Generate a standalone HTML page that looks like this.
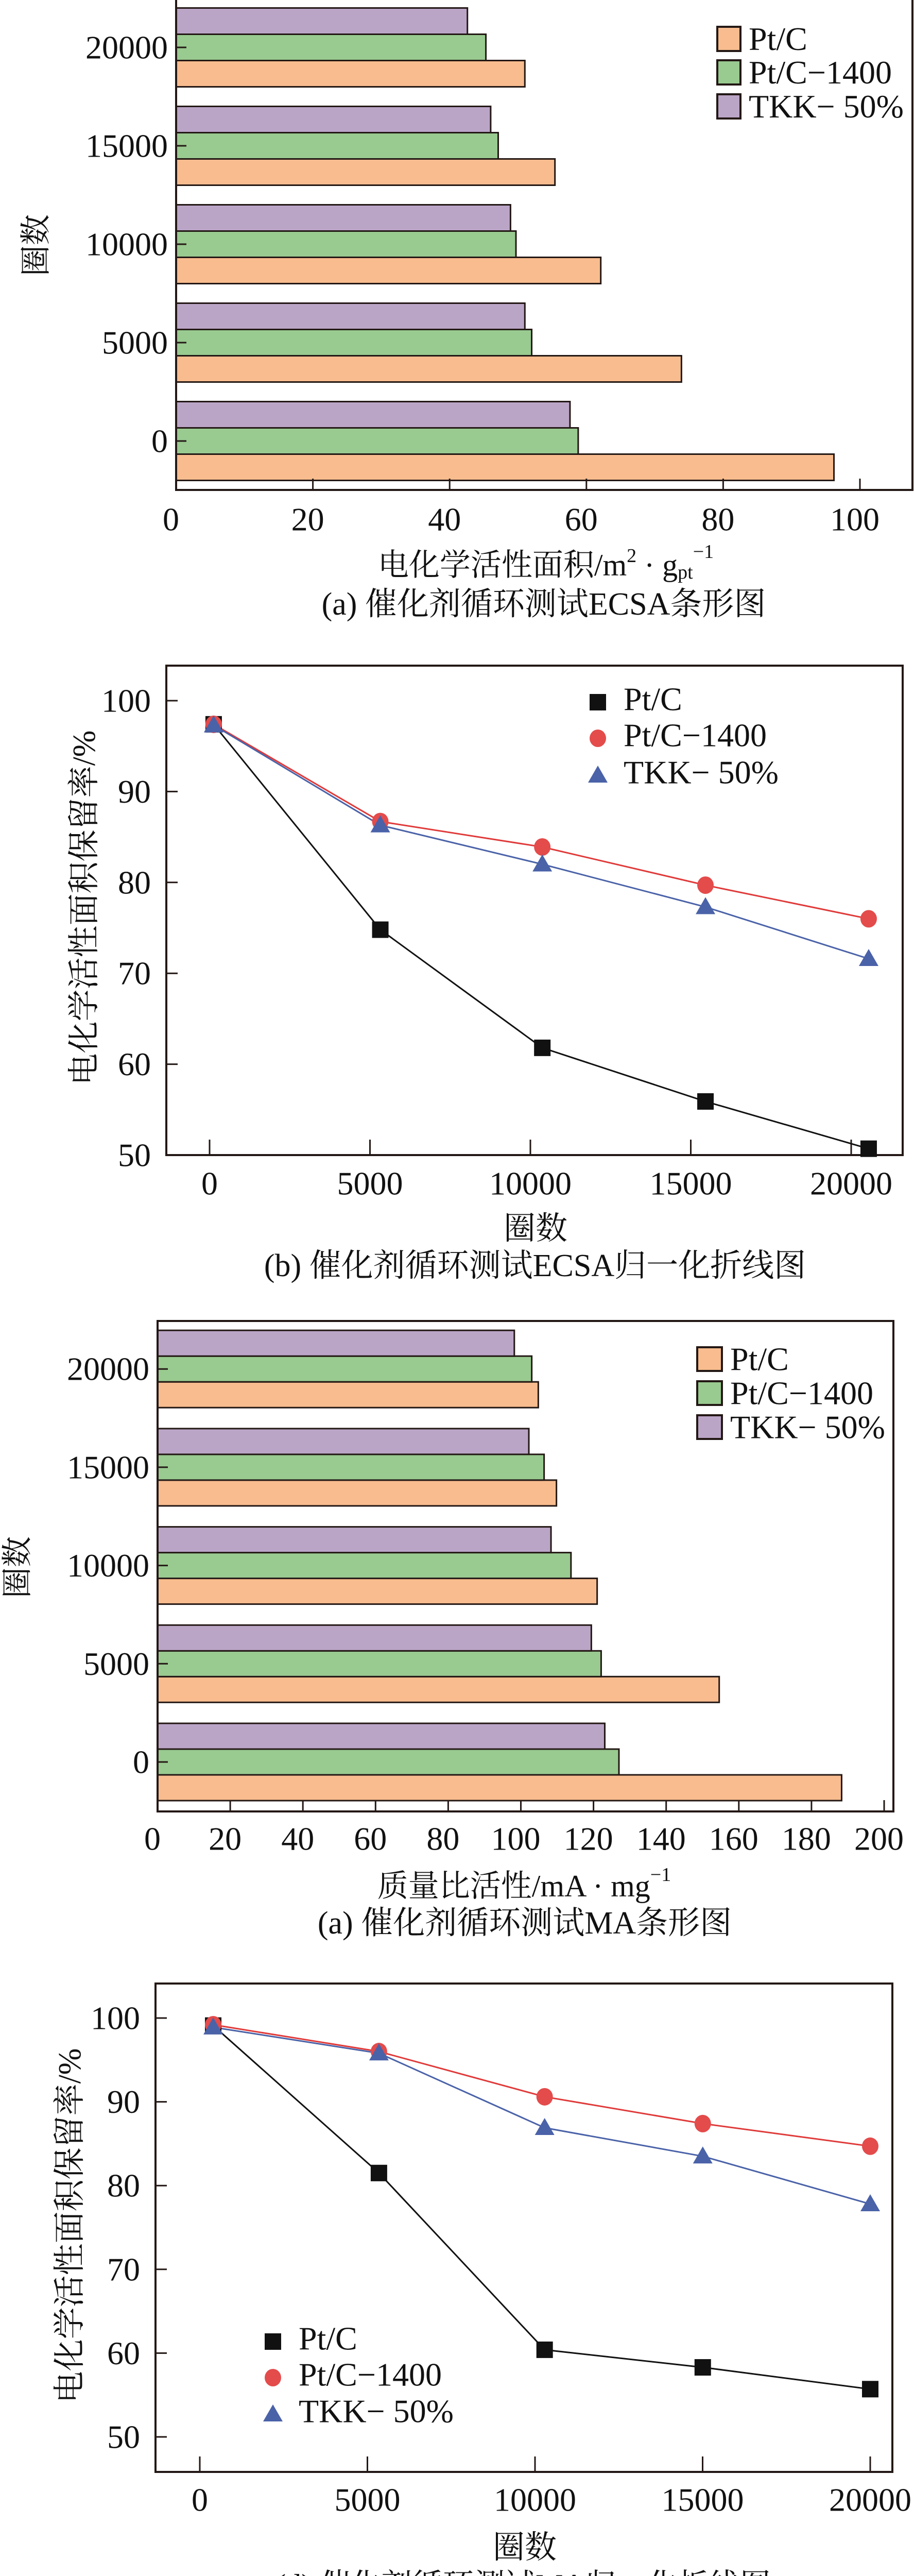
<!DOCTYPE html>
<html><head><meta charset="utf-8"><style>
html,body{margin:0;padding:0;background:#fff;width:1775px;height:5058px;overflow:hidden;}
svg{display:block;overflow:hidden;}
text{font-family:"Liberation Serif","Noto Serif CJK SC",serif;fill:#111;}
</style></head><body>
<svg id="fig" xmlns="http://www.w3.org/2000/svg" width="1775" height="5058" viewBox="0 0 1775 5058">
<rect x="0" y="0" width="1775" height="5058" fill="#fff"/>
</svg>
<script>
// ---- Chart (a) ECSA bar ----
const aCategories = ["0", "5000", "10000", "15000", "20000"];
const aPtC = [96.2, 73.9, 62.1, 55.4, 51.0];
const aPtC1400 = [58.8, 52.0, 49.7, 47.1, 45.3];
const aTKK = [57.6, 51.0, 48.9, 46.0, 42.6];
const aXTicks = [0, 20, 40, 60, 80, 100];
// ---- Chart (b) ECSA normalized line ----
const bCycles = [127, 5322, 10372, 15458, 20545];
const bPtC = [97.4, 74.8, 61.8, 55.9, 50.7];
const bPtC1400 = [97.4, 86.7, 83.9, 79.7, 76.0];
const bTKK = [97.3, 86.3, 82.0, 77.3, 71.6];
const bXTicks = [0, 5000, 10000, 15000, 20000];
const bYTicks = [50, 60, 70, 80, 90, 100];
// ---- Chart (c) MA bar ----
const cCategories = ["0", "5000", "10000", "15000", "20000"];
const cPtC = [188.3, 154.6, 121.0, 109.8, 104.8];
const cPtC1400 = [127.0, 122.1, 113.8, 106.4, 103.0];
const cTKK = [123.1, 119.4, 108.3, 102.2, 98.2];
const cXTicks = [0, 20, 40, 60, 80, 100, 120, 140, 160, 180, 200];
// ---- Chart (d) MA normalized line ----
const dCycles = [400, 5344, 10287, 15004, 20000];
const dPtC = [99.1, 81.5, 60.4, 58.3, 55.7];
const dPtC1400 = [99.2, 96.0, 90.6, 87.4, 84.7];
const dTKK = [98.9, 95.8, 86.9, 83.5, 77.8];
const dXTicks = [0, 5000, 10000, 15000, 20000];
const dYTicks = [50, 60, 70, 80, 90, 100];

const NS = "http://www.w3.org/2000/svg";
const svg = document.getElementById("fig");
function mk(tag, attrs, parent) {
  const e = document.createElementNS(NS, tag);
  for (const k in attrs) e.setAttribute(k, attrs[k]);
  (parent || svg).appendChild(e);
  return e;
}
function txt(s, x, y, size, anchor, parent) {
  const t = mk("text", {x: x, y: y, "font-size": size, "text-anchor": anchor || "middle", "dominant-baseline": "central"}, parent);
  t.textContent = s;
  return t;
}
const ORANGE = "#F8BC8E", GREEN = "#99CA90", PURPLE = "#BBA5C7", EDGE = "#231815";

function barChart(o) {
  const g = mk("g", {});
  
  
  const xs = v => o.left + v * o.unit;
  const cy = i => o.y0 - i * o.spacing;
  const series = [[o.s1, ORANGE, "pt-c"], [o.s2, GREEN, "pt-c-1400"], [o.s3, PURPLE, "tkk-50"]];
  o.cats.forEach((c, i) => {
    series.forEach((s, k) => {
      let y;
      if (k === 0) y = cy(i) + 0.5 * o.bh;
      else if (k === 1) y = cy(i) - 0.5 * o.bh;
      else y = cy(i) - 1.5 * o.bh;
      const r = mk("rect", {x: o.left, y: y, width: xs(s[0][i]) - o.left, height: o.bh, fill: s[1], stroke: EDGE, "stroke-width": 3}, g);
      
      
    });
    const tk = mk("line", {x1: o.left, x2: o.left + 20, y1: cy(i), y2: cy(i), stroke: EDGE, "stroke-width": 3}, g);
    
    
    const tl = txt(c, o.left - 16, cy(i), 64, "end", g);
    
    
  });
  o.xt.forEach(v => {
    const l = mk("line", {x1: xs(v), x2: xs(v), y1: o.bottom, y2: o.bottom - 22, stroke: EDGE, "stroke-width": 3}, g);
    
    
    const t = txt(String(v), xs(v) - 10, o.xlabY, 64, "middle", g);
    
    
  });
  const frame = mk("path", {d: o.frame, fill: "none", stroke: EDGE, "stroke-width": 4}, g);
  
  
  const names = ["Pt/C", "Pt/C\u22121400", "TKK\u2212 50%"];
  const cols = [ORANGE, GREEN, PURPLE];
  o.legY.forEach((ly, k) => {
    const b = mk("rect", {x: o.legX, y: ly, width: o.legW, height: o.legH, fill: cols[k], stroke: EDGE, "stroke-width": 4}, g);
    
    
    const t = txt(names[k], o.legX + o.legW + 16, ly + o.legH / 2, 64, "start", g);
    
    
  });
  return g;
}

function lineChart(o) {
  const g = mk("g", {});
  
  
  const xs = v => o.x0 + v * o.xu;
  const ys = v => o.y100 + (100 - v) * o.yu;
  const frame = mk("rect", {x: o.left, y: o.top, width: o.right - o.left, height: o.bottom - o.top, fill: "none", stroke: EDGE, "stroke-width": 4}, g);
  
  
  o.yt.forEach(v => {
    const l = mk("line", {x1: o.left, x2: o.left + 22, y1: ys(v), y2: ys(v), stroke: EDGE, "stroke-width": 3}, g);
    
    
    const t = txt(String(v), o.left - 30, ys(v), 64, "end", g);
    
    
  });
  o.xt.forEach(v => {
    const l = mk("line", {x1: xs(v), x2: xs(v), y1: o.bottom, y2: o.bottom - 30, stroke: EDGE, "stroke-width": 3}, g);
    
    
    const t = txt(String(v), xs(v), o.xlabY, 64, "middle", g);
    
    
  });
  const series = [[o.s1, "#111", "square", "pt-c"], [o.s2, "#E03A3A", "circle", "pt-c-1400"], [o.s3, "#4A62A8", "tri", "tkk-50"]];
  series.forEach(s => {
    const pts = o.cx.map((c, i) => xs(c).toFixed(1) + "," + ys(s[0][i]).toFixed(1)).join(" ");
    const pl = mk("polyline", {points: pts, fill: "none", stroke: s[1], "stroke-width": 3}, g);
    
    
  });
  series.forEach(s => {
    o.cx.forEach((c, i) => {
      const m = marker(s[2], xs(c), ys(s[0][i]), s[1], g);
      
      
    });
  });
  const names = ["Pt/C", "Pt/C\u22121400", "TKK\u2212 50%"];
  o.legY.forEach((ly, k) => {
    const m = marker(series[k][2], o.legX, ly, series[k][1], g);
    
    
    const t = txt(names[k], o.legX + 50, ly - 6, 64, "start", g);
    
    
  });
  return g;
}
function marker(kind, x, y, col, parent) {
  if (kind === "square") return mk("rect", {x: x - 16, y: y - 16, width: 32, height: 32, fill: col}, parent);
  if (kind === "circle") return mk("ellipse", {cx: x, cy: y, rx: 16, ry: 17, fill: "#E44B4B"}, parent);
  return mk("polygon", {points: (x) + "," + (y - 19) + " " + (x - 19) + "," + (y + 14) + " " + (x + 19) + "," + (y + 14), fill: col}, parent);
}

barChart({name: "chart-a-ecsa-bar", cats: aCategories, s1: aPtC, s2: aPtC1400, s3: aTKK, xt: aXTicks,
  left: 342, unit: 13.28, y0: 856, spacing: 191, bh: 51, bottom: 951, xlabY: 1008,
  frame: "M342,0 L342,951 L1772,951 L1772,0",
  legX: 1393, legW: 45, legH: 47, legY: [52, 117, 183]});
lineChart({name: "chart-b-ecsa-line", s1: bPtC, s2: bPtC1400, s3: bTKK, cx: bCycles, xt: bXTicks, yt: bYTicks,
  left: 323, right: 1753, top: 1292, bottom: 2242, x0: 407, xu: 1246 / 20000, y100: 1360, yu: 17.64, xlabY: 2297,
  legX: 1161, legY: [1363, 1433, 1505]});
barChart({name: "chart-c-ma-bar", cats: cCategories, s1: cPtC, s2: cPtC1400, s3: cTKK, xt: cXTicks,
  left: 306, unit: 7.055, y0: 3420, spacing: 190.7, bh: 50, bottom: 3516, xlabY: 3569,
  frame: "M306,2564 L306,3516 L1735,3516 L1735,2564 Z",
  legX: 1354, legW: 48, legH: 46, legY: [2615, 2681, 2747]});
lineChart({name: "chart-d-ma-line", s1: dPtC, s2: dPtC1400, s3: dTKK, cx: dCycles, xt: dXTicks, yt: dYTicks,
  left: 302, right: 1733, top: 3850, bottom: 4798, x0: 388, xu: 1302 / 20000, y100: 3917, yu: 16.26, xlabY: 4852,
  legX: 530, legY: [4545, 4615, 4686]});

function label(s, x, y, size, name, rot) {
  const t = txt(s, x, y, size, "middle");
  if (rot) t.setAttribute("transform", "rotate(-90 " + x + " " + y + ")");
  
  
  return t;
}
const ta = label("", 1060, 1097, 60, "x-axis-title-a");
ta.innerHTML = '电化学活性面积/m<tspan font-size="38" dy="-18">2</tspan><tspan dy="18"> · g</tspan><tspan font-size="38" dy="14">pt</tspan><tspan font-size="38" dy="-40">−1</tspan>';
label("(a) 催化剂循环测试ECSA条形图", 1056, 1173, 62, "caption-a");
label("圈数", 70, 476, 60, "y-axis-title-a", true);

label("电化学活性面积保留率/%", 164, 1762, 62, "y-axis-title-b", true);
label("圈数", 1040, 2385, 62, "x-axis-title-b");
label("(b) 催化剂循环测试ECSA归一化折线图", 1039, 2457, 62, "caption-b");

const tc = label("", 1018, 3661, 60, "x-axis-title-c");
tc.innerHTML = '质量比活性/mA · mg<tspan font-size="38" dy="-22">−1</tspan>';
label("(a) 催化剂循环测试MA条形图", 1019, 3733, 62, "caption-c");
label("圈数", 34, 3042, 60, "y-axis-title-c", true);

label("电化学活性面积保留率/%", 136, 4320, 62, "y-axis-title-d", true);
label("圈数", 1019, 4945, 62, "x-axis-title-d");
label("(d) 催化剂循环测试MA归一化折线图", 1016, 5018, 60, "caption-d");
</script>
</body></html>
